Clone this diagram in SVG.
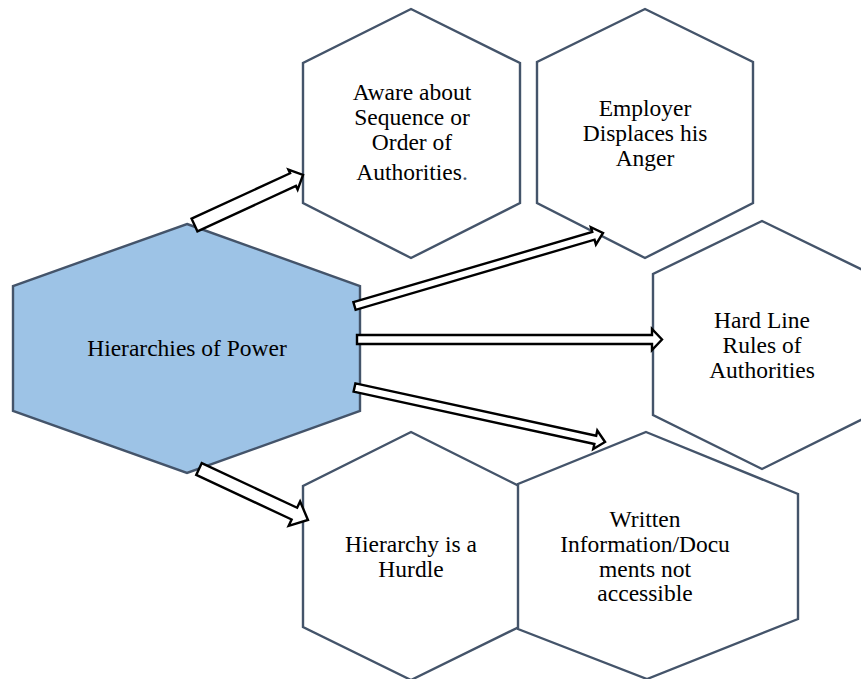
<svg xmlns="http://www.w3.org/2000/svg" width="861" height="679" viewBox="0 0 861 679">
<style>
.hex{fill:#ffffff;stroke:#44546A;stroke-width:2.4;stroke-linejoin:miter}
.main{fill:#9DC3E6}
.t{font-family:"Liberation Serif","Times New Roman",serif;font-size:23.5px;fill:#000;text-anchor:middle}
.arr{fill:#ffffff;stroke:#000;stroke-width:2.4;stroke-linejoin:miter}
</style>
<rect width="861" height="679" fill="#ffffff"/>
<g id="node-main">
<polygon class="hex main" points="187,224 360,286 360,411 187,473 13,411 13,286"/>
<text class="t" x="187" y="356" font-family="Liberation Serif, serif">Hierarchies of Power</text>
</g>
<g id="node-aware">
<polygon class="hex" points="411,9 520,63 520,203 411,258 303,203 303,63"/>
<text class="t" x="412" y="100" font-family="Liberation Serif, serif">Aware about</text>
<text class="t" x="412" y="125" font-family="Liberation Serif, serif">Sequence or</text>
<text class="t" x="412" y="150" font-family="Liberation Serif, serif">Order of</text>
<text class="t" x="412" y="180" font-family="Liberation Serif, serif">Authorities<tspan fill="#44546A">.</tspan></text>
</g>
<g id="node-employer">
<polygon class="hex" points="645,9 753,62 753,203 645,258 537,203 537,62"/>
<text class="t" x="645" y="116" font-family="Liberation Serif, serif">Employer</text>
<text class="t" x="645" y="141" font-family="Liberation Serif, serif">Displaces his</text>
<text class="t" x="645" y="166" font-family="Liberation Serif, serif">Anger</text>
</g>
<g id="node-hardline">
<polygon class="hex" points="762,221 871,274 871,415 762,469 653,415 653,274"/>
<text class="t" x="762" y="328" font-family="Liberation Serif, serif">Hard Line</text>
<text class="t" x="762" y="353" font-family="Liberation Serif, serif">Rules of</text>
<text class="t" x="762" y="378" font-family="Liberation Serif, serif">Authorities</text>
</g>
<g id="node-hurdle">
<polygon class="hex" points="411,432 519,486 519,627 411,680 303,627 303,486"/>
<text class="t" x="411" y="552" font-family="Liberation Serif, serif">Hierarchy is a</text>
<text class="t" x="411" y="577" font-family="Liberation Serif, serif">Hurdle</text>
</g>
<g id="node-written">
<polygon class="hex" points="646,432 798,494 798,619 647,679 518,629 518,484"/>
<text class="t" x="645" y="527" font-family="Liberation Serif, serif">Written</text>
<text class="t" x="645" y="552" font-family="Liberation Serif, serif">Information/Docu</text>
<text class="t" x="645" y="577" font-family="Liberation Serif, serif">ments not</text>
<text class="t" x="645" y="601" font-family="Liberation Serif, serif">accessible</text>
</g>
<g id="connectors">
<path class="arr" transform="translate(194.5,225) rotate(-24.74)" d="M0,-7 L108.5,-7 L108.5,-11 L119.5,0 L108.5,11 L108.5,7 L0,7 Z"/>
<path class="arr" transform="translate(354.5,306) rotate(-16.37)" d="M0,-4 L249,-4 L249,-9 L259,0 L249,9 L249,4 L0,4 Z"/>
<path class="arr" transform="translate(357,339.5)" d="M0,-4.5 L295,-4.5 L295,-10.5 L305,0 L295,10.5 L295,4.5 L0,4.5 Z"/>
<path class="arr" transform="translate(354.5,387.5) rotate(12.27)" d="M0,-4.25 L246.4,-4.25 L246.4,-9.5 L256.4,0 L246.4,9.5 L246.4,4.25 L0,4.25 Z"/>
<path class="arr" transform="translate(199,469) rotate(25.07)" d="M0,-6.5 L105.3,-6.5 L105.3,-13.5 L120.3,0 L105.3,13.5 L105.3,6.5 L0,6.5 Z"/>
</g>
</svg>
